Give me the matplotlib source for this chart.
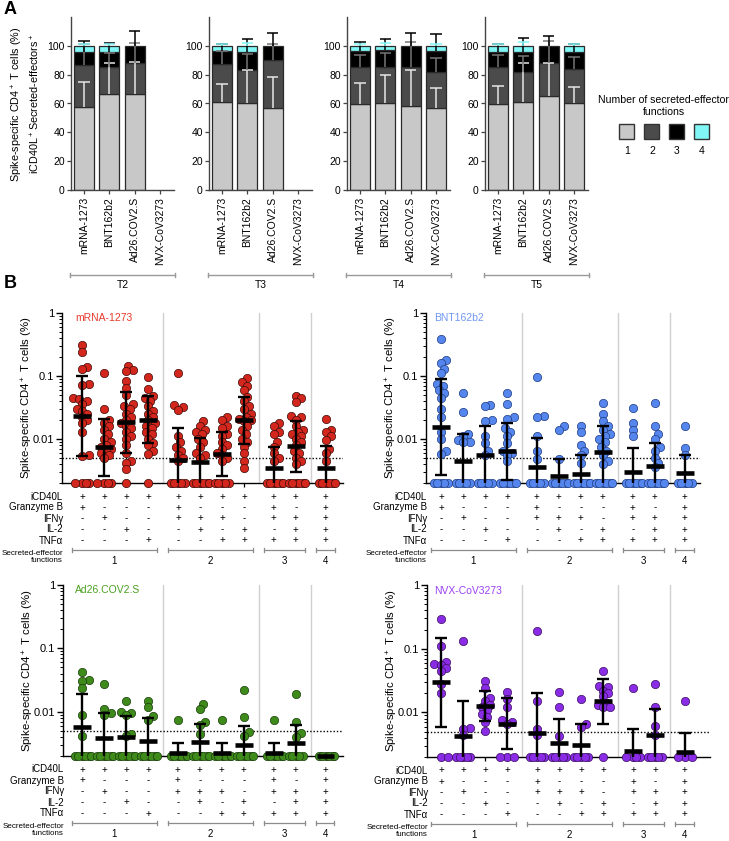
import numpy as np
import matplotlib
matplotlib.use("Agg")
import matplotlib.pyplot as plt
from matplotlib.patches import Rectangle
from matplotlib.transforms import blended_transform_factory

plt.rcParams['font.family'] = ['Liberation Sans', 'DejaVu Sans']
plt.rcParams['mathtext.default'] = 'regular'

# ---------------- Panel A data (mean % per number of functions 1..4, and SD) ----------------
timepoints = ['T2', 'T3', 'T4', 'T5']
vaccines = ['mRNA-1273', 'BNT162b2', 'Ad26.COV2.S', 'NVX-CoV3273']

pct_T2 = [[57.5, 29.5, 9.0, 4.0], [66.3, 19.0, 10.2, 4.5], [66.5, 21.5, 12.0, 0.0], None]
sd_T2 = [[17.5, 14.0, 7.5, 1.5], [22.0, 10.0, 6.5, 1.5], [22.5, 14.0, 10.6, 0.0], None]
pct_T3 = [[61.0, 26.7, 8.8, 3.5], [60.6, 22.7, 12.3, 4.4], [57.2, 33.1, 9.7, 0.0], None]
sd_T3 = [[12.2, 9.0, 4.7, 1.5], [22.7, 11.0, 9.0, 2.0], [21.0, 11.0, 9.0, 0.0], None]
pct_T4 = [[59.5, 25.9, 11.1, 3.5], [60.4, 24.8, 12.0, 2.8], [58.3, 26.7, 15.0, 0.0], [57.0, 24.7, 14.8, 3.5]]
sd_T4 = [[15.0, 8.3, 6.5, 1.5], [19.6, 10.0, 7.7, 1.9], [24.6, 18.0, 9.0, 0.0], [14.0, 10.0, 11.6, 1.5]]
pct_T5 = [[59.5, 26.1, 10.2, 4.2], [61.1, 20.6, 13.9, 4.4], [65.3, 23.1, 11.6, 0.0], [60.6, 23.4, 11.6, 4.4]]
sd_T5 = [[12.3, 8.0, 5.6, 1.5], [27.0, 11.4, 9.7, 2.5], [23.0, 15.0, 7.0, 0.0], [10.5, 8.0, 5.8, 1.5]]

# ---------------- Panel B data ----------------
row_names = ['iCD40L', 'Granzyme B', 'IFN\u03b3', 'IL-2', 'TNF\u03b1']
row_signs = ['+++++++++++',
             '+---+---+-+',
             '-+--+++-+++',
             '--+--+-+-++',
             '---+--+++++']
group_sizes = [4, 4, 2, 1]
group_labels = ['1', '2', '3', '4']

mrna_vals = [
    [0.31, 0.24, 0.14, 0.13, 0.075, 0.072, 0.045, 0.043, 0.04, 0.036, 0.03, 0.028, 0.025, 0.022, 0.02, 0.018, 0.013, 0.0055, 0.0053, 0.002, 0.002, 0.002, 0.002],
    [0.11, 0.03, 0.02, 0.018, 0.016, 0.014, 0.012, 0.01, 0.009, 0.008, 0.0075, 0.007, 0.0065, 0.006, 0.0055, 0.005, 0.002, 0.002, 0.002, 0.002],
    [0.145, 0.125, 0.12, 0.083, 0.065, 0.05, 0.036, 0.033, 0.03, 0.025, 0.022, 0.02, 0.018, 0.016, 0.015, 0.013, 0.011, 0.01, 0.008, 0.006, 0.0045, 0.0042, 0.0033, 0.002],
    [0.095, 0.063, 0.048, 0.044, 0.04, 0.033, 0.028, 0.025, 0.022, 0.02, 0.018, 0.016, 0.015, 0.013, 0.012, 0.01, 0.0085, 0.008, 0.0065, 0.0058, 0.002],
    [0.11, 0.034, 0.032, 0.029, 0.011, 0.009, 0.0075, 0.0065, 0.0055, 0.005, 0.0045, 0.002, 0.002, 0.002, 0.002, 0.002],
    [0.019, 0.016, 0.014, 0.013, 0.012, 0.01, 0.009, 0.0075, 0.006, 0.0055, 0.005, 0.002, 0.002, 0.002, 0.002, 0.002, 0.002],
    [0.022, 0.02, 0.016, 0.015, 0.012, 0.011, 0.009, 0.008, 0.007, 0.006, 0.0055, 0.005, 0.0045, 0.002, 0.002, 0.002, 0.002, 0.002],
    [0.092, 0.08, 0.07, 0.06, 0.047, 0.04, 0.033, 0.03, 0.025, 0.022, 0.021, 0.02, 0.019, 0.016, 0.014, 0.012, 0.01, 0.009, 0.0075, 0.006, 0.0045, 0.0034],
    [0.018, 0.016, 0.013, 0.012, 0.009, 0.0075, 0.006, 0.005, 0.0045, 0.002, 0.002, 0.002, 0.002, 0.002, 0.002],
    [0.048, 0.044, 0.038, 0.023, 0.022, 0.02, 0.016, 0.014, 0.013, 0.012, 0.011, 0.01, 0.009, 0.008, 0.0065, 0.006, 0.005, 0.0045, 0.004, 0.002, 0.002, 0.002, 0.002, 0.002, 0.002],
    [0.021, 0.014, 0.013, 0.011, 0.0095, 0.007, 0.006, 0.0045, 0.002, 0.002, 0.002, 0.002, 0.002, 0.002],
]
mrna_mid = [0.023, 0.0074, 0.0186, 0.02, 0.0046, 0.0043, 0.0058, 0.02, 0.0034, 0.0078, 0.0035]
mrna_lo = [0.0053, 0.0026, 0.006, 0.0085, 0.002, 0.002, 0.0026, 0.0082, 0.002, 0.003, 0.002]
mrna_hi = [0.1, 0.0205, 0.055, 0.048, 0.015, 0.0105, 0.013, 0.047, 0.0074, 0.0195, 0.0077]

bnt_vals = [
    [0.38, 0.18, 0.16, 0.13, 0.11, 0.075, 0.07, 0.06, 0.053, 0.045, 0.03, 0.022, 0.013, 0.01, 0.0065, 0.0057, 0.002, 0.002, 0.002, 0.002, 0.002],
    [0.053, 0.027, 0.012, 0.011, 0.0095, 0.009, 0.0088, 0.002, 0.002, 0.002, 0.002, 0.002],
    [0.035, 0.033, 0.02, 0.019, 0.011, 0.0085, 0.0065, 0.0055, 0.002, 0.002, 0.002, 0.002, 0.002],
    [0.053, 0.036, 0.022, 0.021, 0.015, 0.013, 0.011, 0.0085, 0.0065, 0.006, 0.0055, 0.0045, 0.002, 0.002, 0.002, 0.002, 0.002, 0.002],
    [0.095, 0.023, 0.022, 0.011, 0.0065, 0.0048, 0.002, 0.002, 0.002, 0.002, 0.002],
    [0.016, 0.014, 0.0048, 0.002, 0.002, 0.002, 0.002, 0.002, 0.002],
    [0.016, 0.013, 0.008, 0.0065, 0.0055, 0.0042, 0.002, 0.002, 0.002, 0.002, 0.002, 0.002],
    [0.037, 0.025, 0.019, 0.016, 0.014, 0.012, 0.011, 0.01, 0.009, 0.0075, 0.0065, 0.0055, 0.0045, 0.004, 0.002, 0.002, 0.002, 0.002, 0.002, 0.002],
    [0.031, 0.018, 0.014, 0.011, 0.002, 0.002, 0.002, 0.002, 0.002, 0.002],
    [0.037, 0.016, 0.012, 0.01, 0.0075, 0.0065, 0.005, 0.0042, 0.0036, 0.002, 0.002, 0.002, 0.002, 0.002, 0.002],
    [0.016, 0.0072, 0.0056, 0.002, 0.002, 0.002, 0.002, 0.002],
]
bnt_mid = [0.0153, 0.0044, 0.0055, 0.0065, 0.0036, 0.0026, 0.0028, 0.0062, 0.003, 0.0037, 0.0029]
bnt_lo = [0.0027, 0.002, 0.002, 0.0022, 0.002, 0.002, 0.002, 0.002, 0.002, 0.002, 0.002]
bnt_hi = [0.09, 0.012, 0.016, 0.018, 0.0105, 0.0048, 0.0055, 0.016, 0.0071, 0.0085, 0.0056]

ad_vals = [
    [0.043, 0.032, 0.031, 0.024, 0.009, 0.0042, 0.002, 0.002, 0.002, 0.002, 0.002, 0.002],
    [0.027, 0.011, 0.0095, 0.009, 0.002, 0.002, 0.002, 0.002, 0.002, 0.002],
    [0.015, 0.01, 0.0095, 0.0088, 0.0045, 0.0042, 0.002, 0.002, 0.002, 0.002, 0.002, 0.002],
    [0.015, 0.012, 0.0085, 0.0075, 0.002, 0.002, 0.002, 0.002, 0.002, 0.002],
    [0.0075, 0.002, 0.002, 0.002, 0.002, 0.002, 0.002],
    [0.013, 0.011, 0.007, 0.0062, 0.0045, 0.002, 0.002, 0.002, 0.002, 0.002, 0.002],
    [0.0075, 0.002, 0.002, 0.002, 0.002, 0.002, 0.002],
    [0.022, 0.0082, 0.0048, 0.0042, 0.002, 0.002, 0.002, 0.002, 0.002, 0.002],
    [0.0075, 0.002, 0.002, 0.002, 0.002, 0.002, 0.002],
    [0.019, 0.007, 0.0046, 0.004, 0.002, 0.002, 0.002, 0.002, 0.002],
    [0.002, 0.002, 0.002, 0.002, 0.002, 0.002],
]
ad_mid = [0.0057, 0.0038, 0.004, 0.0035, 0.0022, 0.0033, 0.0022, 0.003, 0.0022, 0.0032, 0.002]
ad_lo = [0.002, 0.002, 0.002, 0.002, 0.002, 0.002, 0.002, 0.002, 0.002, 0.002, 0.002]
ad_hi = [0.0193, 0.0095, 0.0087, 0.008, 0.0032, 0.0065, 0.0032, 0.006, 0.0032, 0.0062, 0.002]

nvx_vals = [
    [0.29, 0.11, 0.062, 0.058, 0.056, 0.05, 0.044, 0.028, 0.02, 0.002, 0.002],
    [0.13, 0.0058, 0.0055, 0.0045, 0.002, 0.002, 0.002, 0.002, 0.002],
    [0.031, 0.024, 0.017, 0.015, 0.013, 0.012, 0.011, 0.0095, 0.0085, 0.007, 0.0052],
    [0.021, 0.016, 0.012, 0.0075, 0.0072, 0.0065, 0.002, 0.002, 0.002],
    [0.19, 0.015, 0.0055, 0.0045, 0.002, 0.002, 0.002, 0.002, 0.002],
    [0.021, 0.012, 0.0042, 0.002, 0.002, 0.002, 0.002, 0.002],
    [0.016, 0.0065, 0.006, 0.002, 0.002, 0.002, 0.002, 0.002],
    [0.044, 0.026, 0.025, 0.022, 0.02, 0.018, 0.014, 0.013, 0.012, 0.012, 0.002],
    [0.024, 0.002, 0.002, 0.002, 0.002],
    [0.028, 0.012, 0.0062, 0.0045, 0.002, 0.002, 0.002, 0.002, 0.002],
    [0.015, 0.002, 0.002, 0.002],
]
nvx_mid = [0.03, 0.0042, 0.0128, 0.0067, 0.0047, 0.0033, 0.0031, 0.015, 0.0025, 0.0045, 0.0024]
nvx_lo = [0.006, 0.002, 0.0074, 0.0027, 0.002, 0.002, 0.002, 0.0066, 0.002, 0.002, 0.002]
nvx_hi = [0.15, 0.015, 0.022, 0.017, 0.02, 0.0078, 0.0065, 0.033, 0.0056, 0.0115, 0.0047]

# ---------------- figure helpers ----------------
W, H = 729, 841
fig = plt.figure(figsize=(W / 100, H / 100), dpi=100)


def rect(x, y, w, h):
    return [x / W, 1 - (y + h) / H, w / W, h / H]


ov = fig.add_axes([0, 0, 1, 1])
ov.set_xlim(0, W)
ov.set_ylim(H, 0)
ov.axis('off')
ov.patch.set_visible(False)

ov.text(4, 9, 'A', fontsize=13, fontweight='bold', va='center', ha='left')
ov.text(4, 284, 'B', fontsize=13, fontweight='bold', va='center', ha='left')

# ---------------- Panel A ----------------
seg_colors = ['#c8c8c8', '#4b4b4b', '#000000', '#80f6f6']
err_colors = ['#e6e6e6', '#767676', '#000000', '#80f6f6']
pct_all = [pct_T2, pct_T3, pct_T4, pct_T5]
sd_all = [sd_T2, sd_T3, sd_T4, sd_T5]
a_left = [71, 209, 347, 485]

for i, tp in enumerate(timepoints):
    ax = fig.add_axes(rect(a_left[i], 17, 103, 173))
    pct = pct_all[i]
    sd = sd_all[i]
    tops = {}
    for v in range(len(vaccines)):
        if pct[v] is None:
            continue
        bottom = 0.0
        tops[v] = []
        for k in range(4):
            if pct[v][k] > 0:
                ax.bar(v, pct[v][k], bottom=bottom, width=0.78, color=seg_colors[k],
                       edgecolor='#2a2a2a', linewidth=0.9, zorder=2)
            bottom += pct[v][k]
            tops[v].append(bottom)
    for k in range(4):
        for v in tops:
            if sd[v][k] <= 0:
                continue
            y0 = tops[v][k]
            y1 = y0 + sd[v][k]
            ax.plot([v, v], [y0, y1], color=err_colors[k], lw=1.1, zorder=3 + k, solid_capstyle='butt')
            ax.plot([v - 0.22, v + 0.22], [y1, y1], color=err_colors[k], lw=1.1, zorder=3 + k,
                    solid_capstyle='butt')
    ax.set_xlim(-0.51, 3.55)
    ax.set_ylim(0, 120)
    ax.set_yticks([0, 20, 40, 60, 80, 100])
    ax.set_xticks(range(len(vaccines)))
    ax.set_xticklabels(vaccines, rotation=90, fontsize=7.5)
    ax.tick_params(axis='y', labelsize=7.5, length=3, width=0.9, color='#444444', pad=1.5)
    ax.tick_params(axis='x', length=3, width=0.9, color='#444444', pad=2)
    for s in ['top', 'right']:
        ax.spines[s].set_visible(False)
    for s in ['left', 'bottom']:
        ax.spines[s].set_color('#444444')
        ax.spines[s].set_linewidth(1.0)
    # time point bracket
    x0, x1 = a_left[i] - 1, a_left[i] + 104
    ov.plot([x0, x1], [275, 275], color='#9a9a9a', lw=1)
    ov.plot([x0, x0], [273, 277], color='#9a9a9a', lw=1)
    ov.plot([x1, x1], [273, 277], color='#9a9a9a', lw=1)
    ov.text((x0 + x1) / 2, 285, tp, fontsize=7.5, ha='center', va='center')

ov.text(26, 104, 'Spike-specific CD4$^+$ T cells (%)\niCD40L$^+$Secreted-effectors$^+$',
        rotation=90, fontsize=7.8, ha='center', va='center', linespacing=1.4, multialignment='center')

# legend
ov.text(664, 106, 'Number of secreted-effector\nfunctions', fontsize=7.6, ha='center', va='center',
        linespacing=1.15)
for k, cx in enumerate([627, 652, 677, 702]):
    ov.add_patch(Rectangle((cx - 7.5, 124), 15, 15, facecolor=seg_colors[k], edgecolor='#333333', lw=1))
    ov.text(cx, 151, str(k + 1), fontsize=7.5, ha='center', va='center')

# ---------------- Panel B ----------------
col_x = []
pos = 0.0
for g, n in enumerate(group_sizes):
    for j in range(n):
        col_x.append(pos + j)
    pos += n - 1 + 1.36
col_x = np.array(col_x)
starts = np.cumsum([0] + group_sizes[:-1])
seps = [(col_x[s - 1] + col_x[s]) / 2 for s in starts[1:]]


def swarm(vals, diam=0.25, step=0.08, nmax=5, dec=2.9):
    vals = np.asarray(vals, dtype=float)
    ys = np.log10(vals) * dec
    order = np.argsort(vals, kind='stable')
    cands = [0.0]
    for k in range(1, nmax + 1):
        cands += [k * step, -k * step]
    placed = []
    offs = np.zeros(len(vals))
    for i in order:
        best, bestd = 0.0, -1.0
        for c in cands:
            d = min([np.hypot(c - px, ys[i] - py) for px, py in placed], default=9.0)
            if d >= diam:
                best = c
                break
            if d > bestd:
                best, bestd = c, d
        offs[i] = best
        placed.append((best, ys[i]))
    return offs


panels_b = [
    ('mRNA-1273', mrna_vals, mrna_mid, mrna_lo, mrna_hi, '#d3261d', '#3d0c08', '#e8392c', (62, 313, 281, 170, -0.91)),
    ('BNT162b2', bnt_vals, bnt_mid, bnt_lo, bnt_hi, '#5586ee', '#1f3c82', '#6f97f3', (426, 313, 274, 170, -0.68)),
    ('Ad26.COV2.S', ad_vals, ad_mid, ad_lo, ad_hi, '#3e8a1b', '#1a3c0b', '#4aa021', (63, 585, 280, 171, -0.86)),
    ('NVX-CoV3273', nvx_vals, nvx_mid, nvx_lo, nvx_hi, '#8a2be6', '#3a105e', '#9b42f2', (427, 585, 283, 172, -0.64)),
]

for name, vals, mid, lo, hi, dot_c, edge_c, lab_c, (lx, ty, w, h, xl) in panels_b:
    ax = fig.add_axes(rect(lx, ty, w, h))
    ax.set_yscale('log')
    ax.set_ylim(0.002, 1)
    ax.set_xlim(xl, xl + w / 22.0)
    for s in seps:
        ax.axvline(s, color='#d0d0d0', lw=1, zorder=1)
    ax.axhline(0.005, color='black', lw=1, ls=(0, (1, 1.4)), zorder=2)
    for j, col in enumerate(vals):
        offs = swarm(col)
        ax.scatter(col_x[j] + offs, col, s=36, color=dot_c, edgecolors=edge_c, linewidths=0.5,
                   zorder=3, clip_on=False)
    for j in range(len(col_x)):
        x = col_x[j]
        if hi[j] > lo[j]:
            ax.plot([x, x], [lo[j], hi[j]], color='black', lw=1.7, zorder=4, solid_capstyle='butt')
            ax.plot([x - 0.27, x + 0.27], [hi[j], hi[j]], color='black', lw=1.7, zorder=4, solid_capstyle='butt')
            if lo[j] > 0.0021:
                ax.plot([x - 0.27, x + 0.27], [lo[j], lo[j]], color='black', lw=1.7, zorder=4,
                        solid_capstyle='butt')
        ax.plot([x - 0.4, x + 0.4], [mid[j], mid[j]], color='black', lw=3.3, zorder=5,
                solid_capstyle='butt', clip_on=False)
    ax.set_yticks([0.01, 0.1, 1])
    ax.set_yticklabels(['0.01', '0.1', '1'])
    ax.yaxis.set_minor_locator(matplotlib.ticker.LogLocator(base=10, subs=np.arange(2, 10)))
    ax.yaxis.set_minor_formatter(matplotlib.ticker.NullFormatter())
    ax.tick_params(axis='y', which='major', labelsize=8, length=4, width=1, pad=1.5)
    ax.tick_params(axis='y', which='minor', length=2.2, width=0.7)
    ax.set_xticks(col_x)
    ax.set_xticklabels([])
    ax.tick_params(axis='x', length=3, width=0.9)
    for s in ['top', 'right']:
        ax.spines[s].set_visible(False)
    for s in ['left', 'bottom']:
        ax.spines[s].set_linewidth(1.0)
    ax.text(-0.3, 0.968, name, color=lab_c, fontsize=7.5, ha='left', va='center',
            transform=blended_transform_factory(ax.transData, ax.transAxes))

    # y label
    ov.text(lx - 35, ty + h / 2, 'Spike-specific CD4$^+$ T cells (%)', rotation=90, fontsize=8.2,
            ha='center', va='center')

    # function table below the axis
    bot = ty + h
    tr = blended_transform_factory(ax.transData, ov.transData)
    for r, (rn, signs) in enumerate(zip(row_names, row_signs)):
        yy = bot + 13.5 + 11 * r
        ov.text(lx + 1, yy, rn, fontsize=7, ha='right', va='center')
        for j, sg in enumerate(signs):
            ax.text(col_x[j], yy, sg, fontsize=7, ha='center', va='center', transform=tr)
    yb = bot + 67
    for g, n in enumerate(group_sizes):
        s0 = starts[g]
        xa = col_x[s0] - 0.45
        xb = col_x[s0 + n - 1] + 0.4
        ax.plot([xa, xb], [yb, yb], color='#8c8c8c', lw=0.9, transform=tr, clip_on=False)
        ax.plot([xa, xa], [yb - 1.8, yb + 1.8], color='#8c8c8c', lw=0.9, transform=tr, clip_on=False)
        ax.plot([xb, xb], [yb - 1.8, yb + 1.8], color='#8c8c8c', lw=0.9, transform=tr, clip_on=False)
        ax.text((xa + xb) / 2, bot + 78, group_labels[g], fontsize=7, ha='center', va='center', transform=tr)
    ov.text(lx + 1, bot + 74, 'Secreted-effector\nfunctions', fontsize=5.8, ha='right', va='center',
            linespacing=1.15, multialignment='right')

fig.savefig('out.png', dpi=100)
